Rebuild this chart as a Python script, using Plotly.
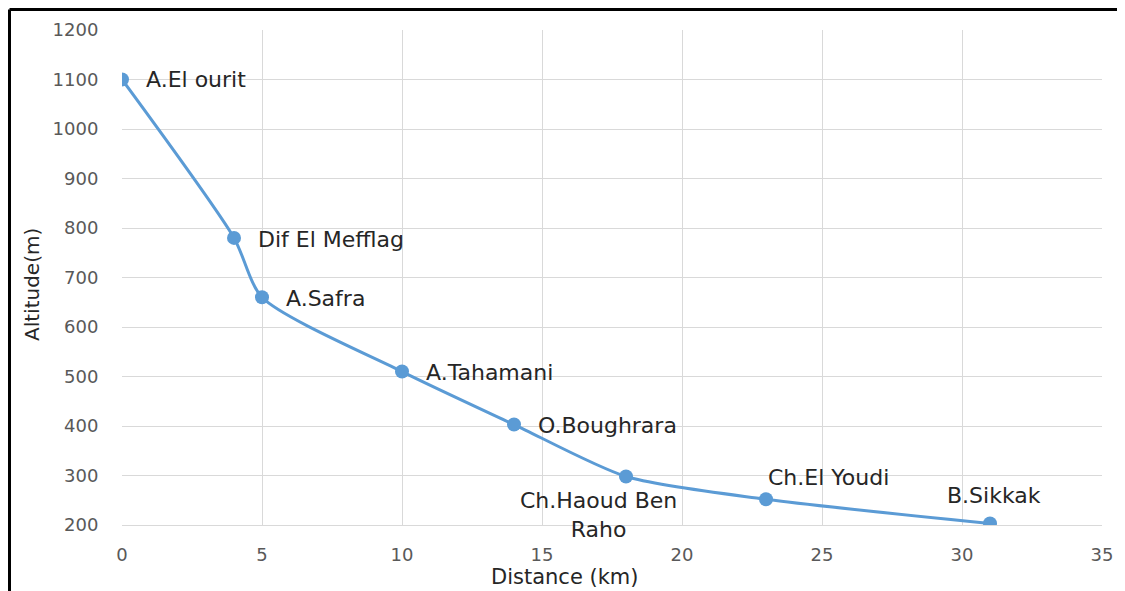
import plotly.graph_objects as go

distance_km = [0, 4, 5, 10, 14, 18, 23, 31]
altitude_m = [1100, 780, 660, 510, 403, 298, 252, 203]
station_names = ["A.El ourit", "Dif El Mefflag", "A.Safra", "A.Tahamani",
                 "O.Boughrara", "Ch.Haoud Ben<br>Raho", "Ch.El Youdi", "B.Sikkak"]
x_ticks = [0, 5, 10, 15, 20, 25, 30, 35]
y_ticks = [200, 300, 400, 500, 600, 700, 800, 900, 1000, 1100, 1200]
x_title = "Distance (km)"
y_title = "Altitude(m)"

LINE_COLOR = "#5B9BD5"
FONT = "DejaVu Sans"

# page body has an 8px margin; figure is sized to end at the window edge
W, H = 1117, 583
ML, MR, MT, MB = 114, 23, 22, 66
PW, PH = W - ML - MR, H - MT - MB

fig = go.Figure()
fig.add_trace(go.Scatter(
    x=distance_km, y=altitude_m, mode="lines+markers",
    line=dict(color=LINE_COLOR, width=3, shape="spline", smoothing=0.7),
    marker=dict(color=LINE_COLOR, size=14),
    showlegend=False, hoverinfo="x+y",
))

# label placement (offsets in px): anchor, xshift, yshift
placements = [
    ("left", 22, 0), ("left", 22, -2), ("left", 22, -1), ("left", 22, -1),
    ("left", 22, -1), ("center", -28, -39), ("left", 0, 22), ("center", 4, 28),
]
for xv, yv, name, (anc, xs, ys) in zip(distance_km, altitude_m, station_names, placements):
    fig.add_annotation(x=xv, y=yv, text=name, showarrow=False,
                       xanchor=anc, yanchor="middle", xshift=xs, yshift=ys,
                       align="center",
                       font=dict(family=FONT, size=22, color="#262626"))

# axis titles (placed as in the reference, slightly off-centre)
fig.add_annotation(xref="paper", yref="paper", x=(565 - 8 - ML) / PW,
                   y=-(577 - 8 - (MT + PH)) / PH, text=x_title, showarrow=False,
                   xanchor="center", yanchor="middle",
                   font=dict(family=FONT, size=21, color="#262626"))
fig.add_annotation(xref="paper", yref="paper", x=(32 - 8 - ML) / PW,
                   y=(MT + PH - (285 - 8)) / PH, text=y_title, showarrow=False,
                   textangle=-90, xanchor="center", yanchor="middle",
                   font=dict(family=FONT, size=20, color="#262626"))

# outer frame (top and left edges visible)
fx = (1.5 - ML) / PW
fy = 1 + (MT - 1.5) / PH
fig.add_shape(type="line", xref="paper", yref="paper", x0=fx, x1=1.05,
              y0=fy, y1=fy, line=dict(color="black", width=3))
fig.add_shape(type="line", xref="paper", yref="paper", x0=fx, x1=fx,
              y0=fy, y1=-0.2, line=dict(color="black", width=3))

fig.update_layout(
    width=W, height=H, autosize=False,
    margin=dict(l=ML, r=MR, t=MT, b=MB),
    paper_bgcolor="white", plot_bgcolor="white",
    font=dict(family=FONT, color="#595959"),
    xaxis=dict(range=[0, 35], tickvals=x_ticks, showgrid=True, gridcolor="#D9D9D9",
               gridwidth=1, zeroline=False, showline=True, linecolor="#D9D9D9",
               mirror=False, ticks="outside", ticklen=13, tickcolor="rgba(0,0,0,0)",
               tickfont=dict(size=18, color="#595959")),
    yaxis=dict(range=[200, 1200], tickvals=y_ticks, showgrid=True, gridcolor="#D9D9D9",
               gridwidth=1, zeroline=False, showline=False,
               ticks="outside", ticklen=19, tickcolor="rgba(0,0,0,0)",
               tickfont=dict(size=18, color="#595959")),
)

fig.write_html("out.html")
